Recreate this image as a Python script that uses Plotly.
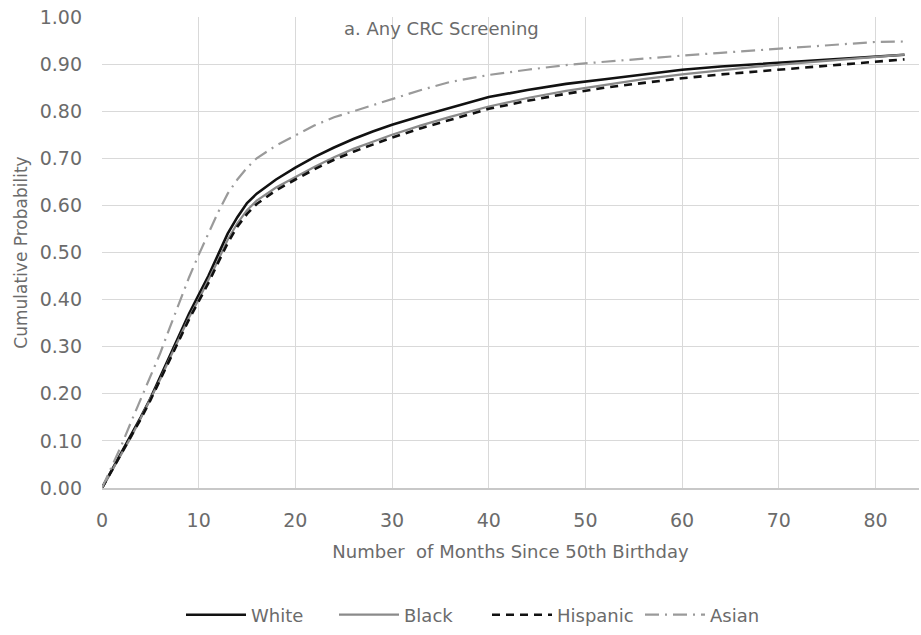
import plotly.graph_objects as go

months = [0, 1, 2, 3, 4, 5, 6, 7, 8, 9, 10, 11, 12, 13, 14, 15, 16, 18, 20, 22, 24, 26, 28, 30,
          33, 36, 40, 44, 48, 52, 56, 60, 64, 68, 72, 76, 80, 83]

white = [0.0, 0.037, 0.075, 0.11, 0.15, 0.19, 0.235, 0.28, 0.325, 0.37, 0.41, 0.45, 0.495, 0.54,
         0.575, 0.605, 0.625, 0.655, 0.68, 0.703, 0.723, 0.741, 0.757, 0.771, 0.79, 0.807, 0.83,
         0.845, 0.858, 0.868, 0.878, 0.888, 0.895, 0.9, 0.905, 0.91, 0.915, 0.92]

black = [0.0, 0.036, 0.073, 0.108, 0.148, 0.188, 0.23, 0.275, 0.32, 0.362, 0.4, 0.44, 0.483, 0.527,
         0.562, 0.59, 0.61, 0.638, 0.66, 0.682, 0.702, 0.72, 0.735, 0.75, 0.77, 0.788, 0.81,
         0.828, 0.843, 0.856, 0.868, 0.878, 0.887, 0.895, 0.902, 0.908, 0.915, 0.92]

hispanic = [0.0, 0.036, 0.072, 0.107, 0.146, 0.186, 0.228, 0.272, 0.315, 0.358, 0.395, 0.435, 0.478, 0.52,
            0.555, 0.582, 0.603, 0.632, 0.655, 0.677, 0.697, 0.714, 0.729, 0.744, 0.764, 0.782, 0.805,
            0.822, 0.837, 0.85, 0.86, 0.87, 0.878, 0.885, 0.892, 0.898, 0.905, 0.91]

asian = [0.0, 0.045, 0.09, 0.14, 0.187, 0.235, 0.285, 0.34, 0.395, 0.447, 0.495, 0.54, 0.585, 0.625,
         0.655, 0.68, 0.7, 0.727, 0.748, 0.77, 0.787, 0.8, 0.812, 0.825, 0.845, 0.862, 0.877,
         0.888, 0.898, 0.905, 0.912, 0.918, 0.924, 0.93, 0.935, 0.942, 0.947, 0.948]

x_ticks = [0, 10, 20, 30, 40, 50, 60, 70, 80]
y_ticks = [0.0, 0.1, 0.2, 0.3, 0.4, 0.5, 0.6, 0.7, 0.8, 0.9, 1.0]

series = [
    ("White", white, dict(color="#111111", width=2.6, dash="solid")),
    ("Black", black, dict(color="#8a8a8a", width=2.2, dash="solid")),
    ("Hispanic", hispanic, dict(color="#111111", width=2.6, dash="8px,6px")),
    ("Asian", asian, dict(color="#9a9a9a", width=2.2, dash="14px,6px,2px,6px")),
]

fig = go.Figure()
for name, vals, line in series:
    fig.add_trace(go.Scatter(x=months, y=vals, mode="lines", name=name, line=line))

font_family = "DejaVu Sans, Noto Sans, sans-serif"
grey = "#6b6b6b"

W, H = 921, 635
L, R, T = 102, 2, 17
ph = 471
B = H - T - ph
pw = W - L - R

fig.update_layout(
    width=W, height=H,
    margin=dict(l=L, r=R, t=T, b=B, autoexpand=False),
    paper_bgcolor="white", plot_bgcolor="white",
    font=dict(family=font_family, size=18, color=grey),
    showlegend=True,
    legend=dict(orientation="h", x=(487 - L) / pw, xanchor="center",
                y=(488 - 615) / ph, yanchor="middle",
                font=dict(size=18, color=grey), itemwidth=60, tracegroupgap=0,
                entrywidth=78, entrywidthmode="pixels"),
    annotations=[dict(text="a. Any CRC Screening", x=(441 - L) / pw, xref="paper",
                      y=(488 - 28) / ph, yref="paper", xanchor="center", yanchor="middle",
                      showarrow=False, font=dict(size=18, color=grey))],
)

fig.update_xaxes(range=[0, 84.5], tickvals=x_ticks,
                 ticktext=[str(v) for v in x_ticks],
                 showgrid=True, gridcolor="#d9d9d9", gridwidth=1, zeroline=False,
                 showline=True, linecolor="#c8c8c8", linewidth=1.5, ticks="",
                 ticklabelstandoff=14, automargin=False, ticklabeloverflow="allow",
                 tickfont=dict(size=19, color=grey),
                 title=dict(text="Number&nbsp; of Months Since 50th Birthday", standoff=16,
                            font=dict(size=18, color=grey)))
fig.update_yaxes(range=[0, 1.0], tickvals=y_ticks, ticktext=[f"{v:.2f}" for v in y_ticks],
                 showgrid=True, gridcolor="#d9d9d9", gridwidth=1, zeroline=False,
                 showline=False, ticks="", ticklabelstandoff=19, automargin=False,
                 ticklabeloverflow="allow",
                 tickfont=dict(size=19, color=grey),
                 title=dict(text="Cumulative Probability", standoff=7,
                            font=dict(size=17, color=grey)))

fig.write_html("out.html", config={"displayModeBar": False},
               post_script="document.body.style.margin='0px';document.body.style.overflow='hidden';")
